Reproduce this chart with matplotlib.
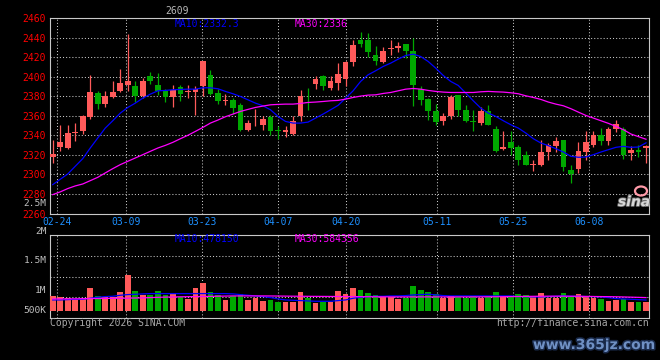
import numpy as np
import matplotlib
matplotlib.use('Agg')
import matplotlib.pyplot as plt
import matplotlib.patheffects as pe
from matplotlib.patches import Ellipse

# ---------------- data ----------------
title = '2609'
date_labels = ['02-24', '03-09', '03-23', '04-07', '04-20', '05-11', '05-25', '06-08']
date_idx = [0, 9, 19, 29, 38, 50, 60, 70]

open_ = [2317.4, 2327.7, 2327.0, 2342.0, 2344.0, 2358.3, 2383.2, 2372.3, 2378.7, 2385.5,
         2391.7, 2390.6, 2379.7, 2400.9, 2391.7, 2384.9, 2378.7, 2389.6, 2384.5, 2384.2,
         2390.0, 2401.9, 2383.2, 2375.3, 2376.3, 2370.6, 2345.7, 2351.1, 2350.1, 2358.3,
         2345.0, 2343.0, 2341.6, 2359.3, 2373.6, 2392.7, 2400.9, 2388.9, 2394.0, 2397.5,
         2414.5, 2437.6, 2437.6, 2422.3, 2414.5, 2428.4, 2429.1, 2433.5, 2426.4, 2387.6,
         2377.4, 2365.1, 2354.9, 2359.3, 2380.8, 2366.1, 2354.9, 2352.5, 2365.1, 2346.7,
         2326.3, 2333.5, 2328.3, 2320.2, 2309.3, 2309.3, 2322.6, 2329.4, 2335.5, 2304.2,
         2305.9, 2322.6, 2330.4, 2340.0, 2334.5, 2346.7, 2346.4, 2321.9, 2325.3, 2327.0]
close = [2320.5, 2332.8, 2342.6, 2343.0, 2359.7, 2384.2, 2372.3, 2379.7, 2384.2, 2393.7,
         2395.7, 2379.7, 2395.7, 2395.7, 2385.5, 2378.7, 2386.6, 2382.1, 2385.0, 2387.6,
         2415.5, 2382.5, 2375.3, 2376.0, 2367.8, 2345.7, 2352.2, 2351.8, 2356.9, 2344.0,
         2344.0, 2345.7, 2354.9, 2379.7, 2373.0, 2397.8, 2390.0, 2395.1, 2402.9, 2414.5,
         2432.5, 2433.5, 2425.7, 2416.5, 2426.4, 2429.1, 2431.1, 2426.4, 2391.0, 2376.3,
         2364.4, 2353.2, 2360.0, 2378.7, 2366.1, 2354.9, 2353.5, 2365.1, 2350.8, 2323.6,
         2327.7, 2326.6, 2315.1, 2310.0, 2310.0, 2322.6, 2330.4, 2333.8, 2307.2, 2300.4,
         2323.6, 2332.8, 2340.0, 2334.5, 2346.7, 2351.8, 2319.5, 2325.3, 2322.6, 2328.7]
high = [2335.5, 2350.8, 2350.8, 2352.5, 2361.0, 2401.9, 2384.9, 2385.5, 2395.7, 2408.0,
        2444.0, 2395.7, 2398.5, 2404.6, 2403.6, 2387.6, 2391.7, 2391.7, 2391.0, 2390.0,
        2416.2, 2407.0, 2387.6, 2382.1, 2378.0, 2372.9, 2355.9, 2367.2, 2359.3, 2361.0,
        2349.1, 2349.1, 2359.3, 2386.6, 2388.3, 2400.9, 2401.9, 2400.9, 2413.8, 2415.5,
        2437.6, 2445.4, 2444.4, 2431.5, 2430.1, 2437.6, 2435.2, 2433.5, 2440.0, 2390.0,
        2378.0, 2371.9, 2362.7, 2380.8, 2381.4, 2371.2, 2366.1, 2368.5, 2371.2, 2349.1,
        2344.0, 2344.0, 2330.4, 2324.3, 2315.1, 2335.5, 2332.1, 2337.9, 2335.5, 2310.0,
        2332.8, 2344.0, 2344.7, 2347.4, 2348.1, 2355.9, 2348.4, 2328.7, 2330.4, 2329.7]
low = [2311.7, 2323.6, 2326.3, 2334.5, 2341.3, 2356.9, 2367.2, 2368.5, 2378.0, 2384.2,
       2385.5, 2374.0, 2378.0, 2392.3, 2380.8, 2374.0, 2369.2, 2374.6, 2378.0, 2360.3,
       2379.7, 2381.4, 2371.9, 2370.6, 2361.7, 2344.7, 2344.0, 2349.1, 2345.7, 2340.0,
       2336.5, 2337.9, 2340.6, 2354.9, 2366.1, 2387.6, 2386.6, 2386.6, 2385.9, 2390.0,
       2411.4, 2430.8, 2420.6, 2412.1, 2413.8, 2422.3, 2425.7, 2418.9, 2369.5, 2371.2,
       2355.9, 2350.8, 2350.1, 2356.9, 2359.3, 2353.5, 2344.7, 2350.8, 2350.1, 2322.9,
       2325.3, 2319.5, 2310.0, 2309.3, 2303.8, 2308.3, 2315.1, 2322.9, 2303.2, 2291.2,
       2301.1, 2314.4, 2327.7, 2330.4, 2330.4, 2343.3, 2316.1, 2315.1, 2317.5, 2311.7]
ma10 = [2289.5, 2295.0, 2300.4, 2308.3, 2316.1, 2327.0, 2337.2, 2347.4, 2354.9, 2362.7,
        2368.5, 2372.9, 2378.0, 2382.1, 2385.5, 2385.9, 2386.6, 2386.9, 2387.2, 2387.2,
        2388.6, 2388.6, 2387.6, 2384.9, 2382.5, 2379.7, 2376.3, 2372.9, 2370.2, 2366.1,
        2359.3, 2354.2, 2352.5, 2352.5, 2353.5, 2357.6, 2361.7, 2366.1, 2370.6, 2378.0,
        2385.5, 2395.1, 2401.9, 2406.0, 2410.4, 2413.8, 2417.9, 2421.6, 2423.0, 2420.6,
        2415.5, 2408.7, 2401.2, 2395.1, 2391.0, 2383.2, 2375.3, 2367.8, 2362.7, 2359.3,
        2354.9, 2350.8, 2347.4, 2342.3, 2336.5, 2332.1, 2329.4, 2326.3, 2322.9, 2318.5,
        2317.5, 2317.8, 2320.2, 2322.9, 2325.3, 2327.7, 2328.7, 2327.7, 2328.0, 2332.3]
ma30 = [2279.3, 2282.1, 2285.5, 2288.2, 2290.2, 2293.6, 2297.0, 2301.5, 2305.9, 2310.0,
        2313.4, 2316.8, 2320.2, 2323.6, 2327.0, 2329.7, 2332.8, 2336.5, 2340.0, 2344.0,
        2348.1, 2352.5, 2355.6, 2359.0, 2361.7, 2364.4, 2366.5, 2368.5, 2369.9, 2371.2,
        2371.6, 2371.9, 2371.9, 2372.6, 2373.6, 2374.0, 2374.6, 2375.3, 2375.7, 2377.0,
        2378.7, 2380.1, 2381.1, 2381.4, 2382.8, 2383.8, 2385.5, 2387.2, 2387.9, 2387.2,
        2385.9, 2384.9, 2384.2, 2383.8, 2383.8, 2383.8, 2383.8, 2384.5, 2384.9, 2384.5,
        2384.2, 2383.5, 2382.5, 2380.4, 2378.7, 2376.7, 2374.0, 2371.9, 2370.2, 2367.2,
        2363.7, 2360.3, 2357.6, 2354.9, 2352.2, 2349.1, 2345.7, 2341.3, 2338.6, 2336.0]
volume = [672e3, 599e3, 584e3, 526e3, 555e3, 993e3, 672e3, 628e3, 599e3, 818e3,
          1562e3, 891e3, 701e3, 701e3, 861e3, 701e3, 730e3, 613e3, 526e3, 993e3,
          1212e3, 818e3, 701e3, 482e3, 672e3, 730e3, 482e3, 555e3, 438e3, 482e3,
          409e3, 409e3, 380e3, 818e3, 555e3, 350e3, 409e3, 409e3, 861e3, 730e3,
          993e3, 905e3, 774e3, 686e3, 628e3, 628e3, 511e3, 555e3, 1080e3, 905e3,
          818e3, 730e3, 555e3, 642e3, 628e3, 584e3, 642e3, 584e3, 628e3, 818e3,
          628e3, 628e3, 730e3, 701e3, 672e3, 774e3, 555e3, 555e3, 774e3, 628e3,
          730e3, 628e3, 584e3, 511e3, 438e3, 467e3, 511e3, 380e3, 380e3, 380e3]
vol_ma10 = [482e3, 482e3, 496e3, 511e3, 511e3, 555e3, 599e3, 628e3, 642e3, 686e3,
            715e3, 730e3, 745e3, 759e3, 759e3, 759e3, 759e3, 759e3, 759e3, 759e3,
            759e3, 759e3, 759e3, 759e3, 745e3, 715e3, 686e3, 657e3, 628e3, 584e3,
            526e3, 482e3, 467e3, 453e3, 438e3, 423e3, 423e3, 423e3, 453e3, 482e3,
            555e3, 599e3, 628e3, 642e3, 642e3, 657e3, 657e3, 672e3, 701e3, 715e3,
            730e3, 701e3, 672e3, 657e3, 657e3, 657e3, 657e3, 657e3, 657e3, 657e3,
            657e3, 657e3, 628e3, 628e3, 613e3, 613e3, 628e3, 642e3, 657e3, 642e3,
            642e3, 628e3, 628e3, 613e3, 584e3, 540e3, 526e3, 511e3, 496e3, 478e3]
vol_ma30 = [526e3, 526e3, 526e3, 530e3, 535e3, 540e3, 545e3, 548e3, 552e3, 555e3,
            560e3, 566e3, 572e3, 584e3, 595e3, 605e3, 612e3, 618e3, 623e3, 628e3,
            632e3, 638e3, 645e3, 650e3, 657e3, 657e3, 657e3, 657e3, 657e3, 655e3,
            652e3, 648e3, 645e3, 642e3, 640e3, 638e3, 636e3, 634e3, 632e3, 630e3,
            628e3, 625e3, 622e3, 620e3, 618e3, 616e3, 615e3, 615e3, 615e3, 615e3,
            615e3, 615e3, 615e3, 615e3, 615e3, 615e3, 616e3, 618e3, 620e3, 622e3,
            625e3, 628e3, 632e3, 636e3, 640e3, 642e3, 645e3, 645e3, 645e3, 642e3,
            640e3, 636e3, 632e3, 628e3, 625e3, 620e3, 612e3, 603e3, 594e3, 584e3]
price_ticks = list(range(2260, 2461, 20))
ma_labels = ['MA10:2332.3', 'MA30:2336']
vol_ma_labels = ['MA10:478150', 'MA30:584356']
vol_axis_labels = ['2.5M', '2M', '1.5M', '1M', '500K']

# ---------------- style ----------------
W, H = 660, 360
RED, GREEN = '#ff5a5a', '#00a800'
BLUE, MAG = '#0000ff', '#ff00ff'
GRID = '#c8c8c8'
MONO = 'DejaVu Sans Mono'
FS = 7

def fx(x):
    return x / W

def fy(y):
    return 1 - y / H

fig = plt.figure(figsize=(W / 100, H / 100), dpi=100, facecolor='black')

L, R = 50, 649.3
ax = fig.add_axes([fx(L), fy(213.5), (R - L) / W, (213.5 - 18) / H])
ax2 = fig.add_axes([fx(L), fy(318.3), (R - L) / W, (318.3 - 234.7) / H])

x = np.arange(len(open_))
o = np.array(open_); c = np.array(close)
hi = np.array(high); lo = np.array(low)
up = c >= o
cols = np.where(up, RED, GREEN)
grid_pos = 0.61 + 1.012 * np.array(date_idx)
xlim = (-0.36, 79.44)

for a in (ax, ax2):
    a.set_facecolor('black')
    a.set_xlim(*xlim)
    for s in a.spines.values():
        s.set_color(GRID)
        s.set_linewidth(0.8)
    a.set_xticks(grid_pos)
    a.grid(True, color=GRID, linestyle=(0, (1, 2)), linewidth=0.75)
    a.set_axisbelow(True)
    a.tick_params(length=0)

# candles
ax.vlines(x, lo, hi, colors=cols, linewidth=0.9, zorder=3)
body_bot = np.minimum(o, c)
body_h = np.maximum(np.abs(c - o), 0.9)
ax.bar(x, body_h, bottom=body_bot, width=0.76, color=cols, linewidth=0, zorder=4)
ax.plot(x, ma10, color=BLUE, lw=0.9, zorder=5)
ax.plot(x, ma30, color=MAG, lw=0.9, zorder=5)
ax.set_ylim(2260, 2460)
ax.set_yticks(price_ticks)
ax.set_yticklabels([str(t) for t in price_ticks], color='#ff0000', fontsize=FS, family=MONO)
ax.tick_params(axis='y', pad=3)
ax.set_xticklabels(date_labels, color='#1e90ff', fontsize=FS, family=MONO)
ax.tick_params(axis='x', pad=2.5)

# volume
ax2.bar(x, volume, width=0.76, color=cols, linewidth=0, zorder=3)
ax2.plot(x, vol_ma10, color=BLUE, lw=0.9, zorder=4)
ax2.plot(x, vol_ma30, color=MAG, lw=0.9, zorder=4)
vlim = (-0.32e6, 3.33e6)
ax2.set_ylim(*vlim)
ax2.set_yticks(np.linspace(vlim[0], vlim[1], 5))
ax2.set_yticklabels([])
ax2.set_xticklabels([])

# texts (figure pixel positions)
def ftext(xp, yp, s, **kw):
    kw.setdefault('fontsize', FS)
    kw.setdefault('family', MONO)
    kw.setdefault('va', 'center')
    fig.text(fx(xp), fy(yp), s, **kw)

ftext(177, 10.5, title, color='#b8b8b8', ha='center')
ftext(175, 24, ma_labels[0], color=BLUE)
ftext(295, 24, ma_labels[1], color=MAG)
ftext(175, 238.5, vol_ma_labels[0], color=BLUE)
ftext(295, 238.5, vol_ma_labels[1], color=MAG)
for lab, yp in zip(vol_axis_labels, [203.6, 231, 260.7, 290.7, 310.7]):
    ftext(46.5, yp, lab, color='#c0c0c0', ha='right', fontsize=6.8)
ftext(50, 323.5, 'Copyright 2026 SINA.COM', color='#a8a8a8')
ftext(649, 323.5, 'http://finance.sina.com.cn', color='#a8a8a8', ha='right')

# sina logo watermark
fig.add_artist(Ellipse((fx(641), fy(191)), 12 / W, 9 / H, transform=fig.transFigure,
                       fill=False, ec='#ff9aa8', lw=1.6))
fig.text(fx(634), fy(202), 'sina', color='#d8d8d8', fontsize=10, fontweight='bold',
         style='italic', ha='center', va='center', family='DejaVu Sans',
         path_effects=[pe.withStroke(linewidth=1.2, foreground='#707070')])

# site watermark
fig.text(fx(594), fy(345), 'www.365jz.com', color='#6f90c4', fontsize=10,
         fontweight='bold', ha='center', va='center', family='DejaVu Sans',
         path_effects=[pe.withStroke(linewidth=2.2, foreground='#1a2a4a')])

fig.savefig('out.png', dpi=100, facecolor='black')
